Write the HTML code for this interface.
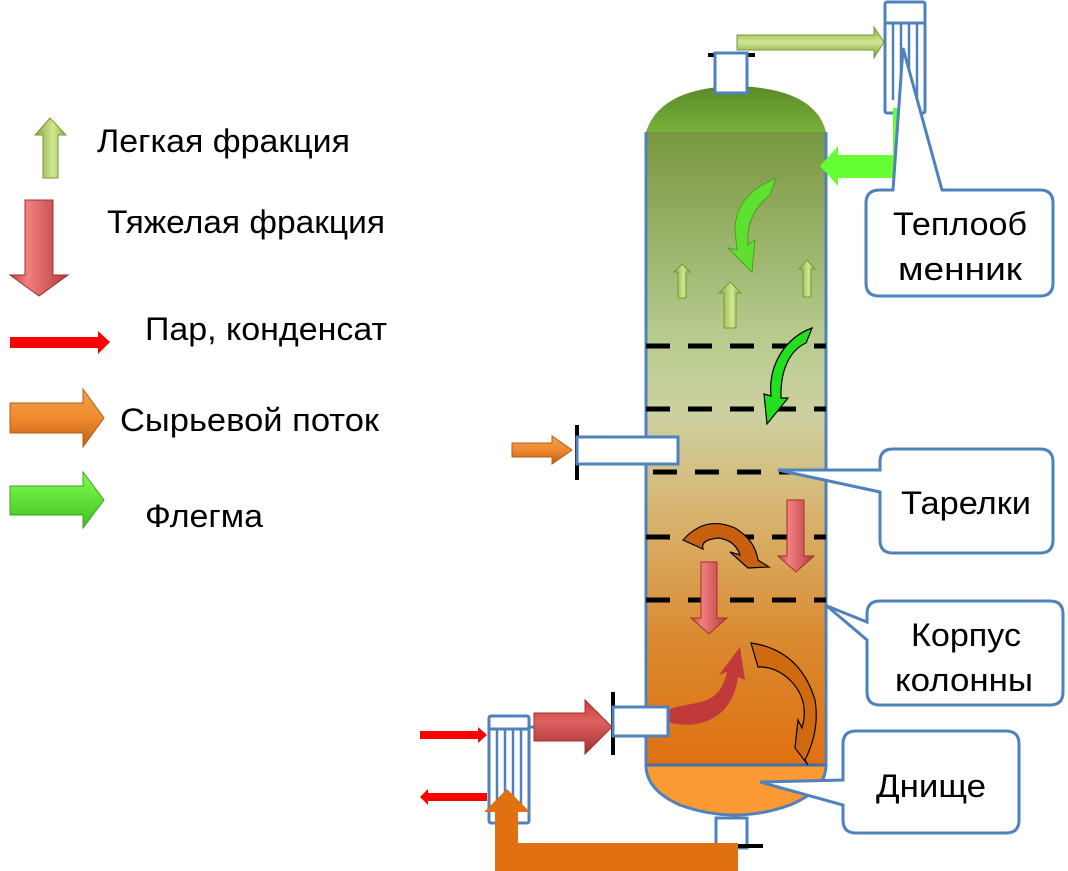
<!DOCTYPE html>
<html><head><meta charset="utf-8"><style>
html,body{margin:0;padding:0;background:#fff;width:1068px;height:871px;overflow:hidden}
text{font-family:"Liberation Sans","DejaVu Sans",sans-serif;fill:#000}
</style></head><body>
<svg width="1068" height="871" viewBox="0 0 1068 871" xmlns="http://www.w3.org/2000/svg">
<defs>
<linearGradient id="body" x1="0" y1="0" x2="0" y2="1">
<stop offset="0" stop-color="#799740"/>
<stop offset="0.33" stop-color="#b8cc90"/>
<stop offset="0.45" stop-color="#cdd0a0"/>
<stop offset="0.6" stop-color="#d8b570"/>
<stop offset="0.8" stop-color="#da8a30"/>
<stop offset="1" stop-color="#e07010"/>
</linearGradient>
<linearGradient id="dome" x1="0" y1="0" x2="0" y2="1">
<stop offset="0" stop-color="#5a8a28"/><stop offset="1" stop-color="#78b03a"/>
</linearGradient>
<linearGradient id="lg" x1="0" y1="0" x2="1" y2="0">
<stop offset="0" stop-color="#8aa840"/><stop offset="0.6" stop-color="#d0e890"/><stop offset="1" stop-color="#8aa840"/>
</linearGradient>
<linearGradient id="lgh" x1="0" y1="0" x2="0" y2="1">
<stop offset="0" stop-color="#8aa840"/><stop offset="0.5" stop-color="#d0e890"/><stop offset="1" stop-color="#7a9838"/>
</linearGradient>
<linearGradient id="rd" x1="0" y1="0" x2="1" y2="0">
<stop offset="0" stop-color="#c84040"/><stop offset="0.3" stop-color="#f08080"/><stop offset="1" stop-color="#b83a3a"/>
</linearGradient>
<linearGradient id="rdh" x1="0" y1="0" x2="0" y2="1">
<stop offset="0" stop-color="#c84040"/><stop offset="0.4" stop-color="#e06060"/><stop offset="1" stop-color="#a03030"/>
</linearGradient>
<linearGradient id="or" x1="0" y1="0" x2="0" y2="1">
<stop offset="0" stop-color="#f0a050"/><stop offset="0.5" stop-color="#f08a30"/><stop offset="1" stop-color="#c06010"/>
</linearGradient>
<linearGradient id="gr" x1="0" y1="0" x2="0" y2="1">
<stop offset="0" stop-color="#80ff50"/><stop offset="1" stop-color="#40c020"/>
</linearGradient>
</defs>

<!-- Legend -->
<polygon points="50,118 66,135 58,135 58,178 43,178 43,135 35,135" fill="url(#lg)" stroke="#7a9838"/>
<text x="97" y="152" font-size="32" textLength="253" lengthAdjust="spacingAndGlyphs">Легкая фракция</text>
<polygon points="25,200 53,200 53,275 68,275 39,296 10,275 25,275" fill="url(#rd)" stroke="#a03030"/>
<text x="107" y="233" font-size="32" textLength="278" lengthAdjust="spacingAndGlyphs">Тяжелая фракция</text>
<polygon points="10,337 98,337 98,331 110,342 98,354 98,348 10,348" fill="#ff0000"/>
<text x="145" y="340" font-size="32" textLength="242" lengthAdjust="spacingAndGlyphs">Пар, конденсат</text>
<polygon points="10,403 83,403 83,389 104,418 83,447 83,433 10,433" fill="url(#or)" stroke="#b06010"/>
<text x="120" y="431" font-size="32" textLength="259" lengthAdjust="spacingAndGlyphs">Сырьевой поток</text>
<polygon points="10,486 83,486 83,472 104,500 83,528 83,515 10,515" fill="url(#gr)" stroke="#40a020"/>
<text x="145" y="527" font-size="32" textLength="118" lengthAdjust="spacingAndGlyphs">Флегма</text>

<!-- Column -->
<path d="M646,132 Q660,88 735,86 Q815,88 826,132 Z" fill="url(#dome)"/>
<rect x="646" y="132" width="180" height="633" fill="url(#body)"/>
<path d="M646,765 L826,765 Q826,790 790,805 Q735,825 680,805 Q646,790 646,765 Z" fill="#fb9a33" stroke="#4f81bd" stroke-width="3"/>
<line x1="646" y1="765" x2="826" y2="765" stroke="#3f6fa8" stroke-width="3"/>
<line x1="646" y1="132" x2="646" y2="765" stroke="#4f81bd" stroke-width="3"/>
<line x1="826" y1="132" x2="826" y2="765" stroke="#4f81bd" stroke-width="3"/>

<!-- trays -->
<g stroke="#000" stroke-width="5" stroke-dasharray="24,18">
<line x1="646" y1="346" x2="826" y2="346"/>
<line x1="646" y1="409" x2="826" y2="409"/>
<line x1="653" y1="472" x2="826" y2="472"/>
<line x1="646" y1="537" x2="826" y2="537"/>
<line x1="646" y1="600" x2="826" y2="600"/>
</g>

<!-- top nozzle -->
<line x1="708" y1="55" x2="755" y2="55" stroke="#000" stroke-width="4"/>
<rect x="715" y="53" width="32" height="40" fill="#fff" stroke="#4f81bd" stroke-width="3"/>
<polygon points="737,35 874,35 874,27 884,42 874,58 874,50 737,50" fill="url(#lgh)" stroke="#7a9838"/>

<!-- top exchanger -->
<rect x="885" y="2" width="40" height="111" rx="2" fill="#fff" stroke="#4f81bd" stroke-width="3"/>
<line x1="885" y1="23" x2="925" y2="23" stroke="#4f81bd" stroke-width="3"/>
<g stroke="#4f81bd" stroke-width="2.5"><line x1="893" y1="23" x2="893" y2="100"/><line x1="901" y1="23" x2="901" y2="100"/><line x1="909" y1="23" x2="909" y2="100"/><line x1="917" y1="23" x2="917" y2="100"/></g>
<polygon points="893,108 899,108 899,178 838,178 838,186 820,166 838,146 838,155 893,155" fill="#66ff33"/>

<!-- flegma curve -->
<path d="M776,178 Q735,195 735,230 L737,250 L728,248 L752,272 L755,240 L748,245 Q745,215 770,195 Z" fill="#5fe030" stroke="#4aa020"/>
<!-- small up arrows -->
<polygon points="682,264 690,272 686,272 686,298 678,298 678,272 674,272" fill="url(#lg)" stroke="#7a9838"/>
<polygon points="730,282 741,293 736,293 736,328 724,328 724,293 719,293" fill="url(#lg)" stroke="#7a9838"/>
<polygon points="807,260 815,269 811,269 811,297 803,297 803,269 799,269" fill="url(#lg)" stroke="#7a9838"/>
<!-- green curve 2 -->
<path d="M812,328 L806,343 C790,350 780,370 781,398 L788,398 L767,424 L764,394 L771,396 C768,365 785,338 812,328 Z" fill="#22e020" stroke="#000" stroke-width="1.2"/>

<!-- feed nozzle -->
<line x1="577" y1="425" x2="577" y2="480" stroke="#000" stroke-width="4"/>
<rect x="577" y="437" width="101" height="27" fill="#fff" stroke="#4f81bd" stroke-width="3"/>
<polygon points="512,443 552,443 552,436 572,450 552,464 552,457 512,457" fill="url(#or)" stroke="#b06010"/>

<!-- inner orange curve -->
<path d="M683,540 Q705,515 735,528 Q755,540 758,560 L769,567 L748,568 L730,552 L740,555 Q735,540 718,538 Q700,540 703,549 Z" fill="#c86010" stroke="#000" stroke-width="1.2"/>
<!-- red down arrows -->
<polygon points="787,500 804,500 804,556 814,556 796,572 778,556 787,556" fill="url(#rd)" stroke="#a03030"/>
<polygon points="701,562 717,562 717,618 727,618 709,634 691,618 701,618" fill="url(#rd)" stroke="#a03030"/>
<!-- red curve -->
<path d="M664,712 C690,698 718,712 727,672 L719,675 L740,647 L745,680 L738,677 C732,722 695,730 668,722 Z" fill="#c03a3a"/>
<!-- big orange curve -->
<path d="M751,643 Q800,650 815,700 Q820,730 805,760 L808,765 L795,748 L798,720 L802,728 Q810,700 790,680 Q775,666 758,667 Z" fill="#d06a10" stroke="#000" stroke-width="1.2"/>

<!-- bottom feed nozzle -->
<line x1="613" y1="692" x2="613" y2="755" stroke="#000" stroke-width="4"/>
<rect x="613" y="707" width="55" height="29" fill="#fff" stroke="#4f81bd" stroke-width="3"/>
<polygon points="534,713 585,713 585,700 612,727 585,754 585,741 534,741" fill="url(#rdh)" stroke="#a03030"/>

<!-- bottom exchanger -->
<rect x="489" y="716" width="40" height="107" rx="2" fill="#fff" stroke="#4f81bd" stroke-width="3"/>
<line x1="489" y1="729" x2="529" y2="729" stroke="#4f81bd" stroke-width="3"/>
<g stroke="#4f81bd" stroke-width="2.5"><line x1="497" y1="729" x2="497" y2="805"/><line x1="505" y1="729" x2="505" y2="805"/><line x1="513" y1="729" x2="513" y2="805"/><line x1="521" y1="729" x2="521" y2="805"/></g>
<line x1="529" y1="727" x2="534" y2="727" stroke="#4f81bd" stroke-width="3"/>
<polygon points="420,731 478,731 478,727 487,735 478,743 478,739 420,739" fill="#ff0000"/>
<polygon points="487,793 428,793 428,789 420,797 428,805 428,801 487,801" fill="#ff0000"/>

<!-- bottom outlet -->
<rect x="716" y="818" width="31" height="30" fill="#fff" stroke="#4f81bd" stroke-width="3"/>
<line x1="738" y1="846" x2="763" y2="846" stroke="#000" stroke-width="4"/>
<polygon points="738,843 738,871 495,871 495,812 484,812 507,789 530,812 518,812 518,843" fill="#e07010"/>

<!-- Callouts -->
<g fill="#fff" stroke="#4f81bd" stroke-width="3">
<path d="M880,190 L893,190 L903,48 L942,190 L1040,190 Q1053,190 1053,203 L1053,283 Q1053,296 1040,296 L879,296 Q866,296 866,283 L866,203 Q866,190 880,190 Z"/>
<path d="M893,449 L1040,449 Q1053,449 1053,462 L1053,540 Q1053,553 1040,553 L893,553 Q880,553 880,540 L880,492 L778,470 L880,470 L880,462 Q880,449 893,449 Z"/>
<path d="M880,601 L1050,601 Q1063,601 1063,614 L1063,692 Q1063,705 1050,705 L880,705 Q867,705 867,692 L867,640 L827,606 L867,622 L867,614 Q867,601 880,601 Z"/>
<path d="M856,731 L1006,731 Q1019,731 1019,744 L1019,820 Q1019,833 1006,833 L856,833 Q843,833 843,820 L843,805 L760,782 L843,780 L843,744 Q843,731 856,731 Z"/>
</g>
<text x="960" y="235" font-size="32" text-anchor="middle" textLength="134" lengthAdjust="spacingAndGlyphs">Теплооб</text>
<text x="960" y="280" font-size="32" text-anchor="middle" textLength="124" lengthAdjust="spacingAndGlyphs">менник</text>
<text x="966" y="514" font-size="32" text-anchor="middle" textLength="130" lengthAdjust="spacingAndGlyphs">Тарелки</text>
<text x="966" y="646" font-size="32" text-anchor="middle" textLength="110" lengthAdjust="spacingAndGlyphs">Корпус</text>
<text x="964" y="691" font-size="32" text-anchor="middle" textLength="138" lengthAdjust="spacingAndGlyphs">колонны</text>
<text x="931" y="797" font-size="32" text-anchor="middle" textLength="110" lengthAdjust="spacingAndGlyphs">Днище</text>
</svg>
</body></html>
